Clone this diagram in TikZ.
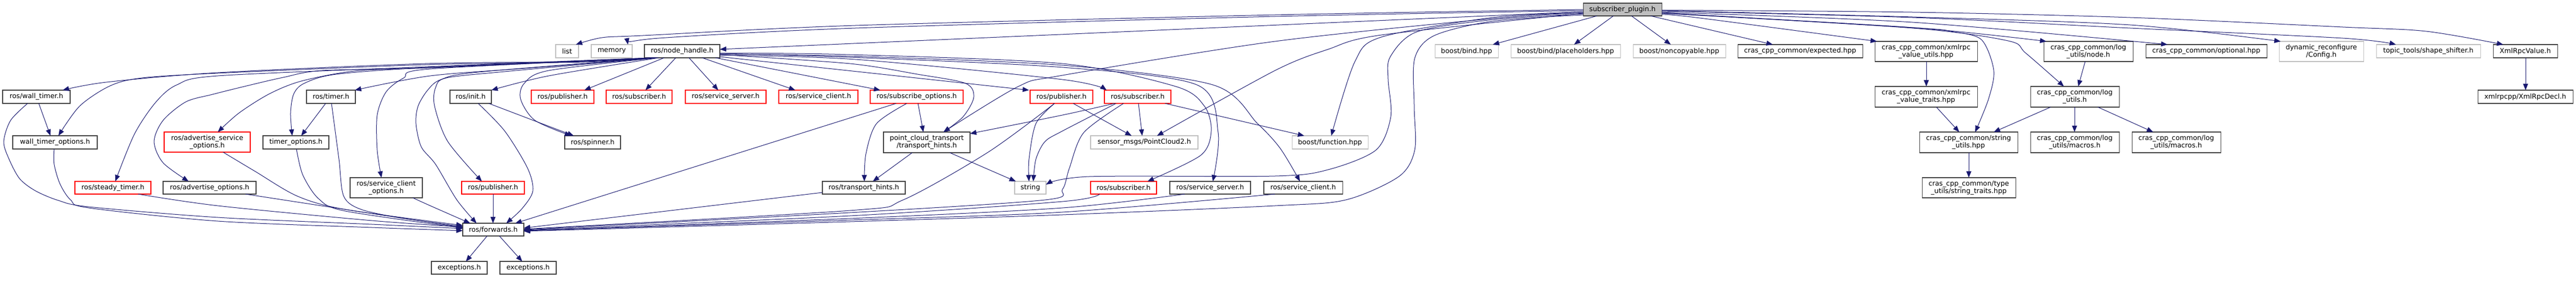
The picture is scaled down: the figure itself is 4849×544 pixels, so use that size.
\documentclass[tikz,border=0pt]{standalone}
\usepackage{fontspec}
\setmainfont{DejaVu Sans}
\usetikzlibrary{arrows.meta}
\definecolor{edgec}{HTML}{191970}
\definecolor{bord}{HTML}{404040}
\definecolor{grayb}{HTML}{BFBFBF}
\definecolor{redb}{HTML}{FF0000}
\tikzset{
  base/.style={rectangle,inner sep=0pt,outer sep=0pt,align=center,line width=0.8pt,
    font=\fontsize{9.6}{10.5}\selectfont},
  nb/.style={base,draw=bord},
  nr/.style={base,draw=redb},
  ng/.style={base,draw=grayb},
  ntop/.style={base,draw=bord,fill=grayb},
  e/.style={draw=edgec,line width=0.75pt,-{Triangle[length=9pt,width=7pt]}},
}
\newcommand\nd[7]{\node[#2,minimum width={(#5-#3)*0.75pt},minimum height={(#6-#4)*0.75pt}] (#1) at ({(#3+#5)/2},{(#4+#6)/2}) {#7};}
\begin{document}
\begin{tikzpicture}[x=0.75pt,y=-0.75pt]
\useasboundingbox (0,0) rectangle (4849,544);
% row 0
\nd{sp}{ntop}{2980}{6}{3128}{30}{subscriber\_plugin.h}
% row 1
\nd{list}{ng}{1046}{84}{1089}{109}{list}
\nd{memory}{ng}{1113}{84}{1190}{109}{memory}
\nd{nh}{nb}{1213}{84}{1355}{109}{ros/node\_handle.h}
\nd{bbind}{ng}{2701}{84}{2820}{109}{boost/bind.hpp}
\nd{bplace}{ng}{2844}{84}{3050}{109}{boost/bind/placeholders.hpp}
\nd{bnon}{ng}{3074}{84}{3248}{109}{boost/noncopyable.hpp}
\nd{cexp}{nb}{3271}{84}{3506}{109}{cras\_cpp\_common/expected.hpp}
\nd{cxu}{nb}{3529}{78}{3722}{116}{cras\_cpp\_common/xmlrpc\\\_value\_utils.hpp}
\nd{clnode}{nb}{3847}{78}{4015}{116}{cras\_cpp\_common/log\\\_utils/node.h}
\nd{copt}{nb}{4039}{84}{4267}{109}{cras\_cpp\_common/optional.hpp}
\nd{dyn}{ng}{4290}{78}{4449}{116}{dynamic\_reconfigure\\/Config.h}
\nd{tts}{ng}{4473}{84}{4669}{109}{topic\_tools/shape\_shifter.h}
\nd{xrv}{nb}{4693}{84}{4814}{109}{XmlRpcValue.h}
% row 2
\nd{wt}{nb}{5}{170}{132}{195}{ros/wall\_timer.h}
\nd{tm}{nb}{577}{170}{669}{195}{ros/timer.h}
\nd{init}{nb}{847}{170}{925}{195}{ros/init.h}
\nd{pub1}{nr}{1000}{170}{1118}{195}{ros/publisher.h}
\nd{sub1}{nr}{1141}{170}{1265}{195}{ros/subscriber.h}
\nd{ss1}{nr}{1290}{170}{1442}{195}{ros/service\_server.h}
\nd{sc1}{nr}{1466}{170}{1615}{195}{ros/service\_client.h}
\nd{subopt}{nr}{1638}{170}{1813}{195}{ros/subscribe\_options.h}
\nd{pub2}{nr}{1939}{170}{2057}{195}{ros/publisher.h}
\nd{sub2}{nr}{2079}{170}{2204}{195}{ros/subscriber.h}
\nd{cxt}{nb}{3529}{163}{3722}{202}{cras\_cpp\_common/xmlrpc\\\_value\_traits.hpp}
\nd{clu}{nb}{3822}{163}{3989}{202}{cras\_cpp\_common/log\\\_utils.h}
\nd{xrd}{nb}{4664}{170}{4843}{195}{xmlrpcpp/XmlRpcDecl.h}
% row 3
\nd{wto}{nb}{24}{256}{183}{281}{wall\_timer\_options.h}
\nd{aso}{nr}{309}{249}{471}{287}{ros/advertise\_service\\\_options.h}
\nd{to}{nb}{495}{256}{619}{281}{timer\_options.h}
\nd{spin}{nb}{1063}{256}{1168}{281}{ros/spinner.h}
\nd{pth}{nb}{1663}{249}{1826}{288}{point\_cloud\_transport\\/transport\_hints.h}
\nd{pc2}{ng}{2053}{256}{2255}{281}{sensor\_msgs/PointCloud2.h}
\nd{bfunc}{ng}{2432}{256}{2575}{281}{boost/function.hpp}
\nd{csu}{nb}{3613}{249}{3798}{288}{cras\_cpp\_common/string\\\_utils.hpp}
\nd{clmA}{nb}{3822}{249}{3989}{288}{cras\_cpp\_common/log\\\_utils/macros.h}
\nd{clmB}{nb}{4013}{249}{4180}{288}{cras\_cpp\_common/log\\\_utils/macros.h}
% row 4
\nd{st}{nr}{141}{342}{284}{366}{ros/steady\_timer.h}
\nd{ao}{nb}{307}{342}{482}{366}{ros/advertise\_options.h}
\nd{sco}{nb}{659}{335}{795}{373}{ros/service\_client\\\_options.h}
\nd{pub3}{nr}{869}{342}{987}{366}{ros/publisher.h}
\nd{rth}{nb}{1548}{342}{1704}{366}{ros/transport\_hints.h}
\nd{str}{ng}{1910}{342}{1969}{366}{string}
\nd{sub3}{nr}{2053}{342}{2177}{366}{ros/subscriber.h}
\nd{ss2}{nb}{2202}{342}{2354}{366}{ros/service\_server.h}
\nd{sc2}{nb}{2379}{342}{2527}{366}{ros/service\_client.h}
\nd{cst}{nb}{3618}{335}{3794}{373}{cras\_cpp\_common/type\\\_utils/string\_traits.hpp}
% row 5,6
\nd{fwd}{nb}{871}{421}{986}{445}{ros/forwards.h}
\nd{excA}{nb}{812}{493}{917}{517}{exceptions.h}
\nd{excB}{nb}{941}{493}{1047}{517}{exceptions.h}

% ---- edges from subscriber_plugin.h
\draw[e] plot[smooth] coordinates {(sp.west |- 0,18) (2400,28) (1610,48) (1210,67) (1133,71) (list.north -| 1084,0)};
\draw[e] plot[smooth] coordinates {(sp.west |- 0,20) (2400,31) (1610,53) (1240,72) (memory.north -| 1182,0)};
\draw[e] (sp.west |- 0,22) -- (nh.east |- 0,93);
\draw[e] (sp.south -| 3006,0) -- (bbind.north -| 2810,0);
\draw[e] (sp.south -| 3037,0) -- (bplace.north -| 2963,0);
\draw[e] (sp.south -| 3071,0) -- (bnon.north -| 3145,0);
\draw[e] (sp.south -| 3107,0) -- (cexp.north -| 3337,0);
\draw[e] plot[smooth] coordinates {(sp.east |- 0,27) (3200,34) (cxu.north -| 3533,0)};
\draw[e] plot[smooth] coordinates {(sp.east |- 0,25) (3600,52) (clnode.north -| 3852,0)};
\draw[e] plot[smooth] coordinates {(sp.east |- 0,23) (3600,42) (copt.north -| 4080,0)};
\draw[e] plot[smooth] coordinates {(sp.east |- 0,20) (3600,32) (4010,47) (dyn.north -| 4293,0)};
\draw[e] plot[smooth] coordinates {(sp.east |- 0,21) (3600,33) (4010,53) (4410,72) (tts.north -| 4510,0)};
\draw[e] plot[smooth] coordinates {(sp.east |- 0,19) (3600,23) (4010,33) (4410,51) (4567,59) (xrv.north -| 4712,0)};
\draw[e] plot[smooth] coordinates {(sp.east |- 0,24) (3600,52) (3677,60) (3730,75) (3753,133) (3743,187) (csu.north -| 3718,0)};
\draw[e] plot[smooth] coordinates {(sp.east |- 0,25) (3600,53) (3780,77) (3813,100) (clu.north -| 3885,0)};
\draw[e] plot[smooth] coordinates {(sp.west |- 0,24) (2810,33) (2600,70) (2550,117) (bfunc.north -| 2506,0)};
\draw[e] plot[smooth] coordinates {(sp.west |- 0,26) (2810,37) (2667,60) (2617,107) (2613,150) (2618,220) (2590,283) (2500,320) (2400,332) (2050,333) (str.east |- 0,348)};
\draw[e] plot[smooth] coordinates {(sp.west |- 0,28) (2810,40) (2700,67) (2663,110) (2662,200) (2663,283) (2633,333) (2533,377) (2400,388) (2000,405) (1600,418) (fwd.east |- 0,436)};
\draw[e] plot[smooth] coordinates {(sp.west |- 0,24) (2810,35) (2400,78) (2000,142) (1917,163) (pth.north -| 1776,0)};
\draw[e] plot[smooth] coordinates {(sp.west |- 0,25) (2600,66) (2500,93) (2400,133) (pc2.north -| 2178,0)};
% right-side internal
\draw[e] (cxu.south -| 3626,0) -- (cxt.north -| 3626,0);
\draw[e] (clnode.south -| 3925,0) -- (clu.north -| 3912,0);
\draw[e] (cxt.south -| 3645,0) -- (csu.north -| 3688,0);
\draw[e] (clu.south -| 3860,0) -- (csu.north -| 3753,0);
\draw[e] (clu.south -| 3905,0) -- (clmA.north -| 3905,0);
\draw[e] (clu.south -| 3949,0) -- (clmB.north -| 4053,0);
\draw[e] (csu.south -| 3706,0) -- (cst.north -| 3706,0);
\draw[e] (xrv.south -| 4754,0) -- (xrd.north -| 4754,0);
% ---- node_handle to the left
\draw[e] plot[smooth] coordinates {(nh.south -| 1222,0) (1100,116) (800,120) (410,137) (200,155) (wt.north -| 118,0)};
\draw[e] plot[smooth] coordinates {(nh.south -| 1224,0) (1100,117) (800,122) (410,138) (267,147) (207,162) (150,200) (wto.north -| 110,0)};
\draw[e] plot[smooth] coordinates {(nh.south -| 1226,0) (800,126) (410,143) (333,160) (293,193) (253,253) (st.north -| 217,0)};
\draw[e] plot[smooth] coordinates {(nh.south -| 1228,0) (810,128) (607,133) (533,146) (460,163) (400,178) (350,192) (307,227) (290,267) (307,307) (ao.north -| 355,0)};
\draw[e] plot[smooth] coordinates {(nh.south -| 1230,0) (810,127) (667,134) (567,153) (507,177) (450,213) (aso.north -| 410,0)};
\draw[e] plot[smooth] coordinates {(nh.south -| 1232,0) (1000,128) (810,143) (tm.north -| 668,0)};
\draw[e] plot[smooth] coordinates {(nh.south -| 1234,0) (810,127) (633,140) (573,157) (553,177) (547,213) (to.north -| 550,0)};
\draw[e] plot[smooth] coordinates {(nh.south -| 1236,0) (810,130) (760,147) (727,173) (710,217) (710,283) (sco.north -| 718,0)};
\draw[e] plot[smooth] coordinates {(nh.south -| 1240,0) (1033,143) (init.north -| 925,0)};
\draw[e] plot[smooth] coordinates {(nh.south -| 1238,0) (1033,133) (987,157) (980,187) (1007,227) (spin.north -| 1075,0)};
\draw[e] (nh.south -| 1250,0) -- (pub1.north -| 1100,0);
\draw[e] plot[smooth] coordinates {(nh.south -| 1236,0) (950,135) (840,147) (820,165) (818,200) (843,267) (pub3.north -| 907,0)};
\draw[e] plot[smooth] coordinates {(nh.south -| 1234,0) (900,136) (830,150) (805,170) (787,200) (783,233) (793,277) (820,310) (860,377) (fwd.north -| 897,0)};
% ---- node_handle to the right
\draw[e] (nh.south -| 1272,0) -- (sub1.north -| 1215,0);
\draw[e] (nh.south -| 1297,0) -- (ss1.north -| 1352,0);
\draw[e] (nh.south -| 1322,0) -- (sc1.north -| 1497,0);
\draw[e] (nh.south -| 1347,0) -- (subopt.north -| 1657,0);
\draw[e] (nh.east |- 0,107) -- (pub2.north -| 1937,0);
\draw[e] plot[smooth] coordinates {(nh.east |- 0,104) (1610,112) (2000,150) (sub2.north -| 2083,0)};
\draw[e] plot[smooth] coordinates {(nh.east |- 0,103) (1600,120) (1727,140) (1817,157) (1833,183) (1813,220) (pth.north -| 1776,0)};
\draw[e] plot[smooth] coordinates {(nh.east |- 0,100) (1600,103) (2000,120) (2213,163) (2267,200) (2280,247) (2260,293) (sub3.north -| 2160,0)};
\draw[e] plot[smooth] coordinates {(nh.east |- 0,101) (1600,108) (2000,127) (2253,160) (2293,250) (ss2.north -| 2283,0)};
\draw[e] plot[smooth] coordinates {(nh.east |- 0,102) (1600,106) (2000,123) (2283,160) (2367,233) (2410,280) (sc2.north -| 2447,0)};
% ---- left nodes to forwards
\draw[e] plot[smooth] coordinates {(wt.south -| 52,0) (20,227) (7,267) (17,300) (37,337) (67,360) (110,378) (167,390) (410,410) (700,423) (fwd.west |- 0,431)};
\draw[e] plot[smooth] coordinates {(wto.south -| 102,0) (102,310) (113,347) (133,377) (167,392) (410,417) (700,429) (fwd.west |- 0,435)};
\draw[e] plot[smooth] coordinates {(st.south -| 260,0) (410,388) (700,416) (fwd.west |- 0,428)};
\draw[e] plot[smooth] coordinates {(aso.south -| 420,0) (480,323) (560,370) (650,395) (fwd.west |- 0,425)};
\draw[e] (ao.south -| 462,0) -- (fwd.west |- 0,429);
\draw[e] plot[smooth] coordinates {(tm.south -| 624,0) (638,300) (647,370) (680,395) (760,412) (fwd.west |- 0,427)};
\draw[e] plot[smooth] coordinates {(to.south -| 558,0) (570,330) (600,375) (650,398) (fwd.west |- 0,430)};
\draw[e] plot[smooth] coordinates {(sco.south -| 777,0) (810,388) (fwd.north -| 885,0)};
\draw[e] plot[smooth] coordinates {(init.south -| 900,0) (950,247) (993,317) (1003,360) (983,393) (fwd.north -| 953,0)};
\draw[e] (pub3.south -| 928,0) -- (fwd.north -| 928,0);
\draw[e] (fwd.south -| 917,0) -- (excA.north -| 877,0);
\draw[e] (fwd.south -| 940,0) -- (excB.north -| 983,0);
\draw[e] (init.south -| 920,0) -- (spin.north -| 1080,0);
\draw[e] (wt.south -| 73,0) -- (wto.north -| 95,0);
\draw[e] (tm.south -| 613,0) -- (to.north -| 567,0);
% ---- right nodes to forwards etc.
\draw[e] (subopt.south -| 1687,0) -- (fwd.north -| 970,0);
\draw[e] (rth.west |- 0,363) -- (fwd.east |- 0,430);
\draw[e] plot[smooth] coordinates {(pub2.south -| 1985,0) (1860,287) (1700,377) (1600,397) (fwd.east |- 0,432)};
\draw[e] plot[smooth] coordinates {(sub2.south -| 2115,0) (2040,250) (2013,317) (2000,357) (1967,377) (1600,401) (fwd.east |- 0,433)};
\draw[e] plot[smooth] coordinates {(sub3.south -| 2070,0) (2000,380) (1600,407) (fwd.east |- 0,434)};
\draw[e] plot[smooth] coordinates {(ss2.south -| 2230,0) (2000,392) (1600,412) (fwd.east |- 0,435)};
\draw[e] plot[smooth] coordinates {(sc2.south -| 2400,0) (2000,400) (1600,415) (fwd.east |- 0,435)};
\draw[e] (pub2.south -| 2020,0) -- (pc2.north -| 2130,0);
\draw[e] (sub2.south -| 2143,0) -- (pc2.north -| 2150,0);
\draw[e] plot[smooth] coordinates {(sub2.south -| 2098,0) (2000,217) (pth.east |- 0,252)};
\draw[e] plot[smooth] coordinates {(sub2.south -| 2101,0) (2000,247) (1967,267) (1950,300) (str.north -| 1945,0)};
\draw[e] plot[smooth] coordinates {(pub2.south -| 1985,0) (1950,233) (1937,300) (str.north -| 1937,0)};
\draw[e] (sub2.south -| 2193,0) -- (bfunc.north -| 2455,0);
\draw[e] (pth.south -| 1788,0) -- (str.north -| 1912,0);
\draw[e] (pth.south -| 1717,0) -- (rth.north -| 1643,0);
\draw[e] plot[smooth] coordinates {(subopt.south -| 1707,0) (1650,233) (1630,290) (rth.north -| 1627,0)};
\draw[e] (subopt.south -| 1728,0) -- (pth.north -| 1738,0);
\end{tikzpicture}
\end{document}
